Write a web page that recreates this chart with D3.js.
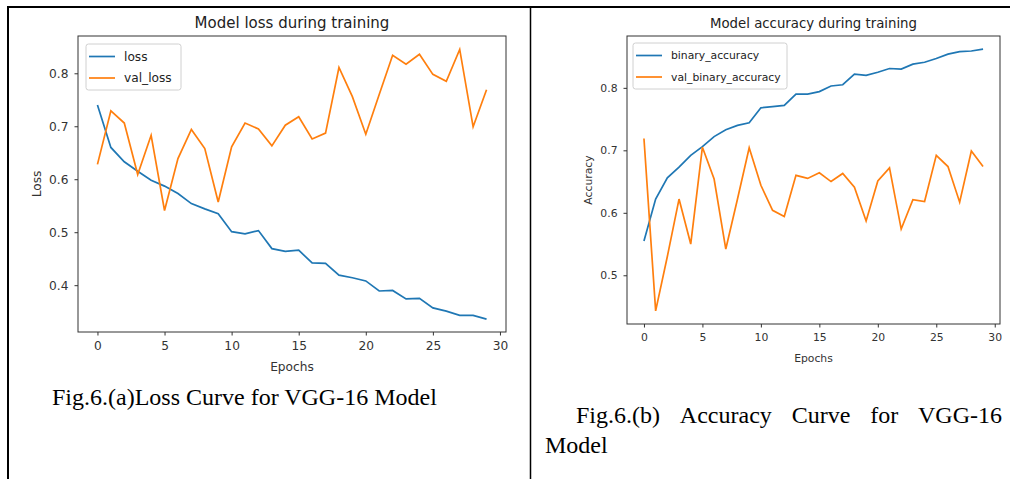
<!DOCTYPE html>
<html lang="en">
<head>
<meta charset="UTF-8">
<title>VGG-16 training curves</title>
<script src="https://cdn.jsdelivr.net/npm/d3@7"></script>
<style>
  body { margin: 0; background: #fff; }
  svg { display: block; }
</style>
</head>
<body>
<script>
// epochs on the x axis
var epochs = d3.range(0, 30);

// Fig.6.(a) loss
var loss = [0.740, 0.660, 0.633, 0.615, 0.598, 0.587, 0.573, 0.554, 0.544, 0.535,
            0.501, 0.497, 0.503, 0.469, 0.464, 0.466, 0.442, 0.441, 0.419, 0.414,
            0.408, 0.389, 0.390, 0.374, 0.375, 0.357, 0.351, 0.343, 0.343, 0.336];
var valLoss = [0.628, 0.729, 0.706, 0.609, 0.683, 0.541, 0.639, 0.694, 0.658, 0.557,
               0.661, 0.706, 0.695, 0.663, 0.702, 0.718, 0.676, 0.687, 0.811, 0.756,
               0.685, 0.760, 0.834, 0.817, 0.836, 0.798, 0.785, 0.845, 0.699, 0.769];

// Fig.6.(b) accuracy
var binAcc = [0.555, 0.622, 0.656, 0.673, 0.692, 0.706, 0.722, 0.733, 0.740, 0.744,
              0.768, 0.770, 0.772, 0.790, 0.790, 0.794, 0.803, 0.805, 0.822, 0.820,
              0.825, 0.831, 0.830, 0.838, 0.841, 0.847, 0.854, 0.858, 0.859, 0.862];
var valBinAcc = [0.719, 0.443, 0.530, 0.622, 0.550, 0.705, 0.654, 0.542, 0.622, 0.704,
                 0.644, 0.604, 0.594, 0.660, 0.655, 0.664, 0.650, 0.663, 0.641, 0.587,
                 0.651, 0.672, 0.574, 0.621, 0.618, 0.692, 0.674, 0.617, 0.699, 0.674];

var xTicks = [0, 5, 10, 15, 20, 25, 30];
var lossTicks = [0.4, 0.5, 0.6, 0.7, 0.8];
var accTicks = [0.5, 0.6, 0.7, 0.8];

var blue = "#1f77b4", orange = "#ff7f0e";
var sans = "DejaVu Sans, sans-serif";
var serif = "Liberation Serif, Times New Roman, serif";

var svg = d3.select("body").append("svg")
    .attr("width", 1010)
    .attr("height", 479);

// table lines of the page
svg.append("line").attr("x1", 8).attr("x2", 8).attr("y1", 6).attr("y2", 479)
    .attr("stroke", "#000").attr("stroke-width", 2);
svg.append("line").attr("x1", 7).attr("x2", 1010).attr("y1", 7).attr("y2", 7)
    .attr("stroke", "#000").attr("stroke-width", 2);
svg.append("line").attr("x1", 530.5).attr("x2", 530.5).attr("y1", 6).attr("y2", 479)
    .attr("stroke", "#000").attr("stroke-width", 1.5);

function panel(p) {
    var x = d3.scaleLinear().domain([-1.45, 30.45]).range([p.left, p.right]);
    var y = d3.scaleLinear().domain(p.yDomain).range([p.bottom, p.top]);
    var g = svg.append("g");

    var line = d3.line()
        .x(function (d, i) { return x(epochs[i]); })
        .y(function (d) { return y(d); });

    g.append("path").datum(p.s1).attr("d", line)
        .attr("fill", "none").attr("stroke", blue).attr("stroke-width", 1.7);
    g.append("path").datum(p.s2).attr("d", line)
        .attr("fill", "none").attr("stroke", orange).attr("stroke-width", 1.7);

    // frame
    g.append("rect")
        .attr("x", p.left).attr("y", p.top)
        .attr("width", p.right - p.left).attr("height", p.bottom - p.top)
        .attr("fill", "none").attr("stroke", "#333").attr("stroke-width", 1);

    var xa = g.append("g")
        .attr("transform", "translate(0," + p.bottom + ")")
        .call(d3.axisBottom(x).tickValues(xTicks).tickSize(3.5).tickPadding(p.xPad));
    var ya = g.append("g")
        .attr("transform", "translate(" + p.left + ",0)")
        .call(d3.axisLeft(y).tickValues(p.yTicks).tickSize(3.5).tickPadding(p.yPad)
            .tickFormat(d3.format(".1f")));
    [xa, ya].forEach(function (a) {
        a.select(".domain").remove();
        a.selectAll("line").attr("stroke", "#333");
        a.selectAll("text").attr("fill", "#333")
            .style("font-family", sans).style("font-size", p.fs + "px");
    });

    // title and axis labels
    g.append("text")
        .attr("x", (p.left + p.right) / 2).attr("y", p.top - 8)
        .attr("text-anchor", "middle").attr("fill", "#222")
        .style("font-family", sans).style("font-size", p.titleFs + "px")
        .text(p.title);
    g.append("text")
        .attr("x", (p.left + p.right) / 2).attr("y", p.bottom + p.xLabOff)
        .attr("text-anchor", "middle").attr("fill", "#333")
        .style("font-family", sans).style("font-size", p.fs + "px")
        .text("Epochs");
    g.append("text")
        .attr("transform", "translate(" + p.yLabX + "," + (p.top + p.bottom) / 2 + ") rotate(-90)")
        .attr("text-anchor", "middle").attr("fill", "#333")
        .style("font-family", sans).style("font-size", p.fs + "px")
        .text(p.yLabel);

    // legend
    var lg = g.append("g").attr("transform", "translate(" + p.legX + "," + p.legY + ")");
    lg.append("rect").attr("width", p.legW).attr("height", 46).attr("rx", 2.5)
        .attr("fill", "#fff").attr("fill-opacity", 0.85)
        .attr("stroke", "#d0d0d0").attr("stroke-width", 1);
    p.names.forEach(function (n, i) {
        var yy = 12.5 + i * 21.5;
        lg.append("line").attr("x1", 3).attr("x2", 29).attr("y1", yy).attr("y2", yy)
            .attr("stroke", i === 0 ? blue : orange).attr("stroke-width", 1.7);
        lg.append("text").attr("x", 38).attr("y", yy).attr("dy", "0.35em")
            .attr("fill", "#222")
            .style("font-family", sans).style("font-size", p.fs + "px")
            .text(n);
    });
}

panel({
    left: 78, right: 506, top: 36, bottom: 332,
    yDomain: [0.3116, 0.8704], yTicks: lossTicks,
    s1: loss, s2: valLoss, names: ["loss", "val_loss"],
    title: "Model loss during training", yLabel: "Loss",
    fs: 12.2, titleFs: 15, xPad: 6, yPad: 6, xLabOff: 39, yLabX: 41,
    legX: 86, legY: 44, legW: 95
});

panel({
    left: 627, right: 1000, top: 36, bottom: 324,
    yDomain: [0.422, 0.883], yTicks: accTicks,
    s1: binAcc, s2: valBinAcc, names: ["binary_accuracy", "val_binary_accuracy"],
    title: "Model accuracy during training", yLabel: "Accuracy",
    fs: 10.8, titleFs: 13.3, xPad: 6, yPad: 6, xLabOff: 38, yLabX: 592,
    legX: 633, legY: 43, legW: 154
});

// captions
svg.append("text")
    .attr("x", 52).attr("y", 405)
    .style("font-family", serif).style("font-size", "24px")
    .text("Fig.6.(a)Loss Curve for VGG-16 Model");

// second caption is justified across the column
var words = ["Fig.6.(b)", "Accuracy", "Curve", "for", "VGG-16"];
var capLeft = 576, capRight = 1002;
var wt = svg.append("g").selectAll("text").data(words).enter().append("text")
    .attr("y", 423)
    .style("font-family", serif).style("font-size", "24px")
    .text(function (d) { return d; });
var widths = [];
wt.each(function () { widths.push(this.getComputedTextLength()); });
var gap = (capRight - capLeft - d3.sum(widths)) / (words.length - 1);
var cx = capLeft;
wt.attr("x", function (d, i) { var v = cx; cx += widths[i] + gap; return v; });
svg.append("text")
    .attr("x", 545).attr("y", 453)
    .style("font-family", serif).style("font-size", "24px")
    .text("Model");
</script>
</body>
</html>
